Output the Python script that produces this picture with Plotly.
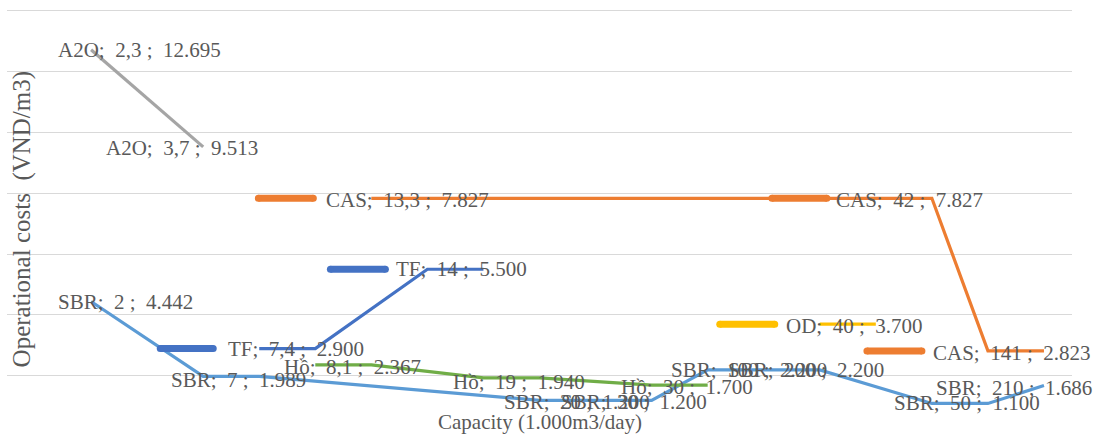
import plotly.graph_objects as go

# ---------------- data ----------------
slots = list(range(18))  # category slots along the (hidden) capacity axis

TF = [None, None, None, 2900, 2900, None, 5500, 5500, None, None, None, None, None, None, None, None, None, None]
CAS = [None, None, None, None, None, 7827, None, None, None, None, None, None, None, None, None, 7827, 2823, 2823]
A2O = [12695, None, 9513, None, None, None, None, None, None, None, None, None, None, None, None, None, None, None]
OD = [None, None, None, None, None, None, None, None, None, None, None, None, None, 3700, 3700, None, None, None]
SBR = [4442, None, 1989, 1989, None, None, None, None, 1200, 1200, 1200, 2200, 2200, 2200, None, 1100, 1100, 1686]
HO = [None, None, None, None, 2367, 2367, None, 1940, 1940, None, 1700, 1700, None, None, None, None, None, None]

series_names = ["TF", "CAS", "A2O", "OD", "SBR", "Hồ"]
series_values = [TF, CAS, A2O, OD, SBR, HO]
series_colors = ["#4472C4", "#ED7D31", "#A5A5A5", "#FFC000", "#5B9BD5", "#70AD47"]

# data labels: (series, slot, label text)
label_series = ["A2O", "A2O", "SBR", "SBR", "TF", "Hồ", "TF", "CAS", "Hồ", "SBR",
                "SBR", "Hồ", "SBR", "SBR", "OD", "CAS", "CAS", "SBR", "SBR"]
label_slots = [0, 2, 0, 2, 3, 4, 6, 5, 7, 8, 9, 10, 11, 12, 13, 15, 16, 15, 17]
label_texts = ["A2O;  2,3 ;  12.695", "A2O;  3,7 ;  9.513", "SBR;  2 ;  4.442", "SBR;  7 ;  1.989",
               "TF;  7,4 ;  2.900", "Hồ;  8,1 ;  2.367", "TF;  14 ;  5.500", "CAS;  13,3 ;  7.827",
               "Hồ;  19 ;  1.940", "SBR;  20 ;  1.200", "SBR;  30 ;  1.200", "Hồ;  30 ;  1.700",
               "SBR;  100 ;  2.200", "SBR;  200 ;  2.200", "OD;  40 ;  3.700", "CAS;  42 ;  7.827",
               "CAS;  141 ;  2.823", "SBR;  50 ;  1.100", "SBR;  210 ;  1.686"]

# ---------------- label placement (pixels relative to the point) ----------------
label_dx = [-35, -99, -35, -34, -33, -33, -33, -47, -32, -38, -37, -33, -39, -38, -36, -98, -57, -40, -110]
label_dy = [0, 1, 0, 4, 0, 2, 0, 2, 4, 2, 2, 2, 0, 0, 2, 2, 2, 0, 2]
# legend keys (start, end offsets) for labels that show one
label_key = [None, None, None, None, (-99, -46), None, (-97, -42), (-113, -58), None, None,
             None, None, None, None, (-100, -45), (-160, -105), (-121, -66), None, None]

FONT = "Liberation Serif, Times New Roman, serif"
TXT = "#595959"
FS = 21

fig = go.Figure()
for name, vals, col in zip(series_names, series_values, series_colors):
    fig.add_trace(go.Scatter(x=slots, y=vals, mode="lines", name=name, connectgaps=True,
                             line=dict(color=col, width=3.2), hoverinfo="skip", showlegend=False))

color_of = dict(zip(series_names, series_colors))
value_of = dict(zip(series_names, series_values))

annotations = []
shapes = []
for s, i, t, dx, dy, key in zip(label_series, label_slots, label_texts, label_dx, label_dy, label_key):
    v = value_of[s][i]
    annotations.append(dict(x=i, y=v, xref="x", yref="y", text=t.replace("  ", "\u00a0 "),
                            showarrow=False, xanchor="left", yanchor="middle",
                            xshift=dx, yshift=-dy, font=dict(family=FONT, size=FS, color=TXT)))
    if key:
        k0, k1 = key
        c = color_of[s]
        shapes.append(dict(type="line", xref="x", yref="y", xsizemode="pixel", ysizemode="pixel",
                           xanchor=i, yanchor=v, x0=k0, x1=k1, y0=0, y1=0,
                           line=dict(color=c, width=7)))
        for kk in (k0, k1):
            shapes.append(dict(type="circle", xref="x", yref="y", xsizemode="pixel", ysizemode="pixel",
                               xanchor=i, yanchor=v, x0=kk - 3.5, x1=kk + 3.5, y0=-3.5, y1=3.5,
                               fillcolor=c, line=dict(width=0)))

annotations.append(dict(text="Capacity (1.000m3/day)", xref="paper", yref="paper", x=0.5, y=0.028,
                        showarrow=False, xanchor="center", yanchor="middle",
                        font=dict(family=FONT, size=FS, color=TXT)))
annotations.append(dict(text="Operational costs  (VND/m3)".replace("  ", "\u00a0 "), xref="paper", yref="paper",
                        x=0.0, xshift=15, y=0.505, textangle=-90, showarrow=False,
                        xanchor="center", yanchor="middle",
                        font=dict(family=FONT, size=25, color=TXT)))

fig.update_layout(
    width=1095, height=434,
    margin=dict(l=7, r=23, t=9, b=0),
    paper_bgcolor="white", plot_bgcolor="white",
    xaxis=dict(range=[-1.5, 17.5], showticklabels=False, showgrid=False, zeroline=False,
               showline=False, ticks=""),
    yaxis=dict(range=[98, 14033], tick0=0, dtick=2000, showticklabels=False, showgrid=True,
               gridcolor="#D9D9D9", gridwidth=1.4, zeroline=False, showline=False, ticks=""),
    annotations=annotations, shapes=shapes,
)

fig.write_html("out.html", config={"displayModeBar": False},
               post_script="document.body.style.margin='0';document.body.style.overflow='hidden';")
